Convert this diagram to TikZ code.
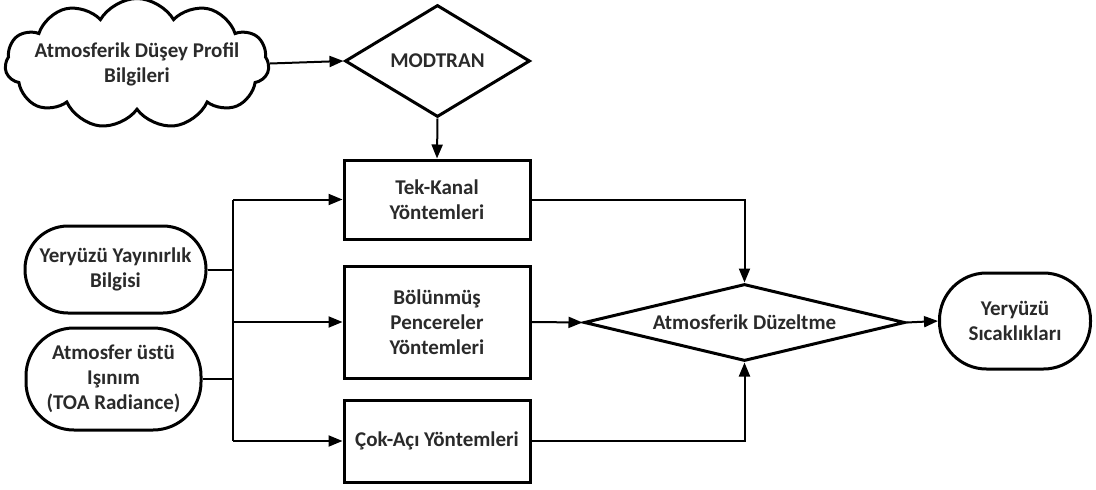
\documentclass[tikz,border=0pt]{standalone}
\usepackage{fontspec}
\setmainfont{Carlito}
\usetikzlibrary{shapes.geometric,shapes.symbols,arrows.meta}
\definecolor{txt}{HTML}{2a2a2a}
\tikzset{
  lbl/.style={font=\fontsize{21}{25}\selectfont\bfseries, text=txt, align=center},
  base/.style={draw=black, line width=3pt, lbl, inner sep=0pt},
  boxnode/.style={base, rectangle, minimum width=186pt, minimum height=#1},
  pill/.style={base, rectangle, rounded corners=#1},
  dia/.style={base, diamond},
  conn/.style={line width=2pt, draw=black},
  arr/.style={conn, -{Triangle[length=14pt,width=11pt]}},
}
\begin{document}
\begin{tikzpicture}[x=1pt,y=-1pt]
\useasboundingbox (0,0) rectangle (1096,490);
% nodes
\node[base, cloud, cloud puffs=11, cloud puff arc=120, cloud ignores aspect,
      minimum width=264pt, minimum height=130pt,
      label={[lbl, yshift=-1pt]center:Atmosferik Düşey Profil\\Bilgileri}] (cloud) at (137,63.5) {};
\node[dia, minimum width=185pt, minimum height=112pt] (mod) at (437.5,61)
      {\makebox[0pt]{MODTRAN}};
\node[boxnode=79pt] (tek) at (437,199.5) {Tek-Kanal\\Yöntemleri};
\node[boxnode=112pt] (bol) at (437,322) {Bölünmüş\\Pencereler\\Yöntemleri};
\node[boxnode=82pt] (cok) at (437,441) {Çok-Açı Yöntemleri};
\node[pill=43pt, minimum width=181pt, minimum height=87pt] (yay) at (115.5,269.5)
      {Yeryüzü Yayınırlık\\Bilgisi};
\node[pill=48pt, minimum width=175pt, minimum height=102pt] (atm) at (113.5,379)
      {Atmosfer üstü\\Işınım\\(TOA Radiance)};
\node[dia, minimum width=321pt, minimum height=77pt] (ad) at (744.5,322.5)
      {\makebox[0pt]{Atmosferik Düzeltme}};
\node[pill=47pt, minimum width=151pt, minimum height=96pt] (sic) at (1015,321)
      {Yeryüzü\\Sıcaklıkları};
% bus coordinates
\coordinate (bTop) at (233,199.5);
\coordinate (bMid) at (233,322);
\coordinate (bBot) at (233,441);
\coordinate (b1) at (233,269.5);
\coordinate (b2) at (233,379);
% connectors
\draw[arr] (cloud.east) -- (mod.west);
\draw[arr] (mod.south) -- (tek.north);
\draw[conn] (bTop) -- (bBot);
\draw[conn] (yay.east) -- (b1);
\draw[conn] (atm.east) -- (b2);
\draw[arr] (bTop) -- (tek.west);
\draw[arr] (bMid) -- (bol.west);
\draw[arr] (bBot) -- (cok.west);
\draw[arr] (tek.east) -| (ad.north);
\draw[arr] (cok.east) -| (ad.south);
\draw[arr] (bol.east) -- (ad.west);
\draw[arr] (ad.east) -- (sic.west);
\end{tikzpicture}
\end{document}
